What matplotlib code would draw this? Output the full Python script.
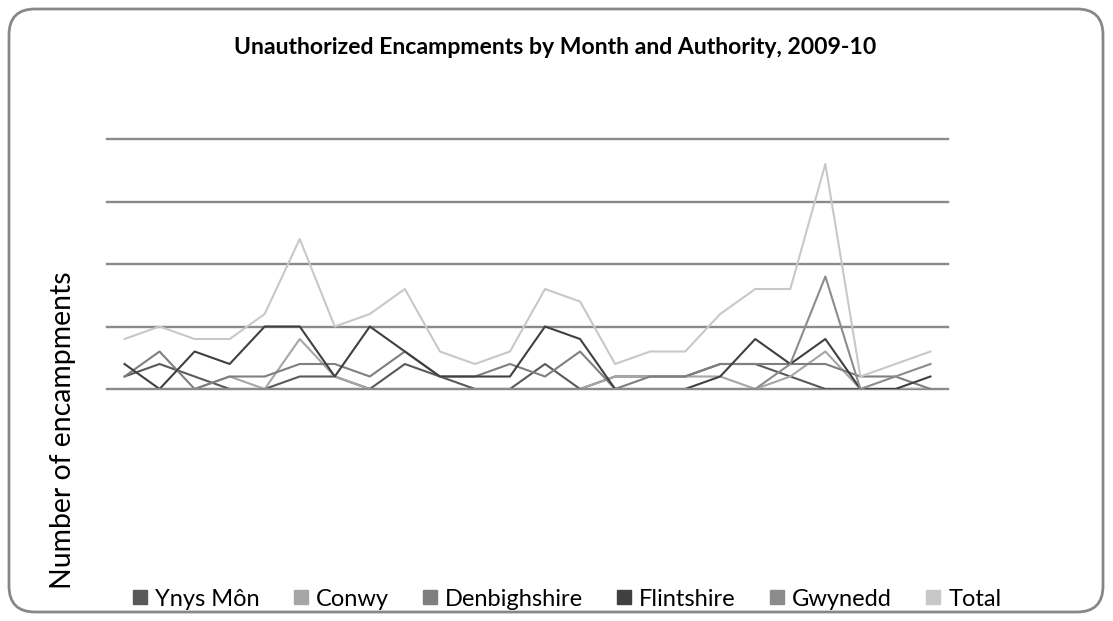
import matplotlib.pyplot as plt
import numpy as np
from matplotlib.patches import FancyBboxPatch
from matplotlib.lines import Line2D

plt.rcParams['font.family'] = ['Lato', 'DejaVu Sans']

# months Apr 2009 .. Mar 2011 (24 points)
months = list(range(24))
ynys_mon = [1, 2, 1, 0, 0, 1, 1, 0, 2, 1, 0, 0, 2, 0, 1, 1, 1, 2, 2, 1, 0, 0, 0, 0]
conwy = [0, 0, 0, 1, 0, 4, 1, 0, 0, 0, 0, 0, 0, 0, 1, 1, 1, 1, 0, 1, 3, 0, 0, 0]
denbighshire = [1, 3, 0, 1, 1, 2, 2, 1, 3, 1, 1, 2, 1, 3, 0, 1, 1, 2, 2, 2, 2, 1, 1, 0]
flintshire = [2, 0, 3, 2, 5, 5, 1, 5, 3, 1, 1, 1, 5, 4, 0, 0, 0, 1, 4, 2, 4, 0, 0, 1]
gwynedd = [0, 0, 0, 0, 0, 0, 0, 0, 0, 0, 0, 0, 0, 0, 0, 0, 0, 0, 0, 2, 9, 0, 1, 2]
total = [4, 5, 4, 4, 6, 12, 5, 6, 8, 3, 2, 3, 8, 7, 2, 3, 3, 6, 8, 8, 18, 1, 2, 3]

names = ['Ynys Môn', 'Conwy', 'Denbighshire', 'Flintshire', 'Gwynedd', 'Total']
series = [ynys_mon, conwy, denbighshire, flintshire, gwynedd, total]
colors = ['#595959', '#a6a6a6', '#7f7f7f', '#404040', '#8c8c8c', '#c8c8c8']

W, H = 1113, 621
fig = plt.figure(figsize=(W / 100, H / 100), dpi=100)

# background frame with rounded corners (pixel coords)
bg = fig.add_axes([0, 0, 1, 1])
bg.set_xlim(0, W)
bg.set_ylim(H, 0)
bg.axis('off')
bg.add_patch(FancyBboxPatch((9, 9), 1094, 603, boxstyle="round,pad=0,rounding_size=26",
                            fc='white', ec='#878787', lw=2))

ax = fig.add_axes([107 / W, 1 - 389 / H, (948 - 107) / W, (389 - 139) / H])
ax.set_facecolor('none')
ax.set_xlim(-0.5, 23.5)
ax.set_ylim(0, 20)
for g in range(0, 21, 5):
    ax.axhline(g, color='#8a8a8a', lw=1.7, zorder=1, clip_on=False)
for s, c in zip(series, colors):
    ax.plot(months, s, color=c, lw=1.5, zorder=2)
ax.set_xticks([])
ax.set_yticks([])
for sp in ax.spines.values():
    sp.set_visible(False)

fig.text(555.5 / W, 1 - 47 / H, 'Unauthorized Encampments by Month and Authority, 2009-10',
         ha='center', va='center', fontsize=16.6, fontweight='bold')
fig.text(63 / W, 1 - 430 / H, 'Number of encampments', rotation=90,
         ha='center', va='center', fontsize=20.4)

handles = [Line2D([], [], marker='s', ls='none', color=c, markersize=10) for c in colors]
fig.legend(handles, names, loc='center', bbox_to_anchor=(567 / W, 1 - 599 / H), ncol=6,
           frameon=False, fontsize=17, handlelength=0.6, handletextpad=0.34,
           columnspacing=1.44)

plt.savefig('out.png', dpi=100)
plt.close()
